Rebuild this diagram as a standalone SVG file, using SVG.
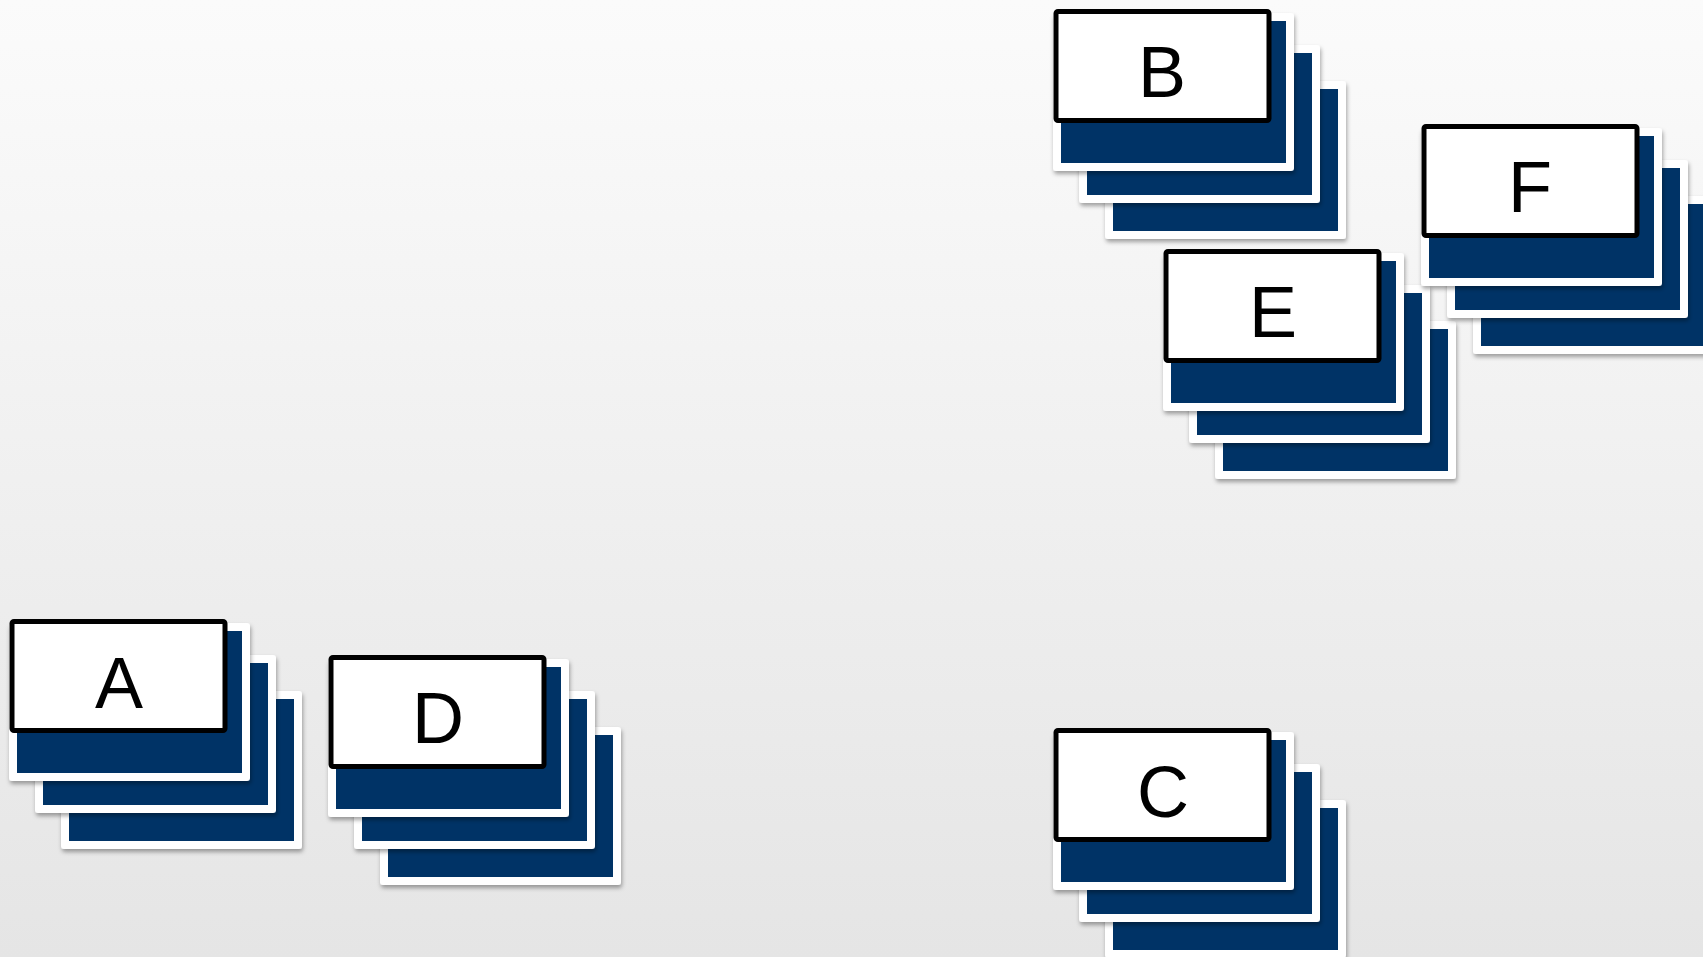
<svg xmlns="http://www.w3.org/2000/svg" xmlns:xlink="http://www.w3.org/1999/xlink" width="1703" height="957" viewBox="0 0 1703 957">
<style>
.card{fill:#ffffff;filter:url(#sh)}
.inner{fill:#003366}
.box{fill:#ffffff;stroke:#000000;stroke-width:5}
.lbl{font-family:"Liberation Sans",Arial,sans-serif;font-size:72px;fill:#000000;text-anchor:middle}
</style>
<defs>
<linearGradient id="bg" x1="0" y1="0" x2="0" y2="1">
<stop offset="0" stop-color="#fbfbfb"/>
<stop offset="0.5" stop-color="#f0f0f0"/>
<stop offset="1" stop-color="#e5e5e5"/>
</linearGradient>
<filter id="sh" x="-10%" y="-10%" width="120%" height="125%">
<feDropShadow dx="1" dy="3" stdDeviation="2" flood-color="#000" flood-opacity="0.35"/>
</filter>
<g id="card">
<rect class="card" x="0" y="0" width="241" height="158" rx="3"/>
<rect class="inner" x="8" y="8" width="225" height="142"/>
</g>
<g id="stack">
<use xlink:href="#card" x="52" y="68"/>
<use xlink:href="#card" x="26" y="32"/>
<use xlink:href="#card" x="0" y="0"/>
<rect class="box" x="3" y="-1.5" width="213" height="109" rx="2"/>
</g>
</defs>
<rect x="0" y="0" width="1703" height="957" fill="url(#bg)"/>
<g id="connectors"/>
<g id="node-A">
<use xlink:href="#stack" x="9" y="623"/>
<text class="lbl" x="119" y="708">A</text>
</g>
<g id="node-D">
<use xlink:href="#stack" x="328" y="659"/>
<text class="lbl" x="438" y="743">D</text>
</g>
<g id="node-B">
<use xlink:href="#stack" x="1053" y="13"/>
<text class="lbl" x="1162" y="97">B</text>
</g>
<g id="node-E">
<use xlink:href="#stack" x="1163" y="253"/>
<text class="lbl" x="1273" y="337">E</text>
</g>
<g id="node-F">
<use xlink:href="#stack" x="1421" y="128"/>
<text class="lbl" x="1530" y="212">F</text>
</g>
<g id="node-C">
<use xlink:href="#stack" x="1053" y="732"/>
<text class="lbl" x="1163" y="817">C</text>
</g>
</svg>
